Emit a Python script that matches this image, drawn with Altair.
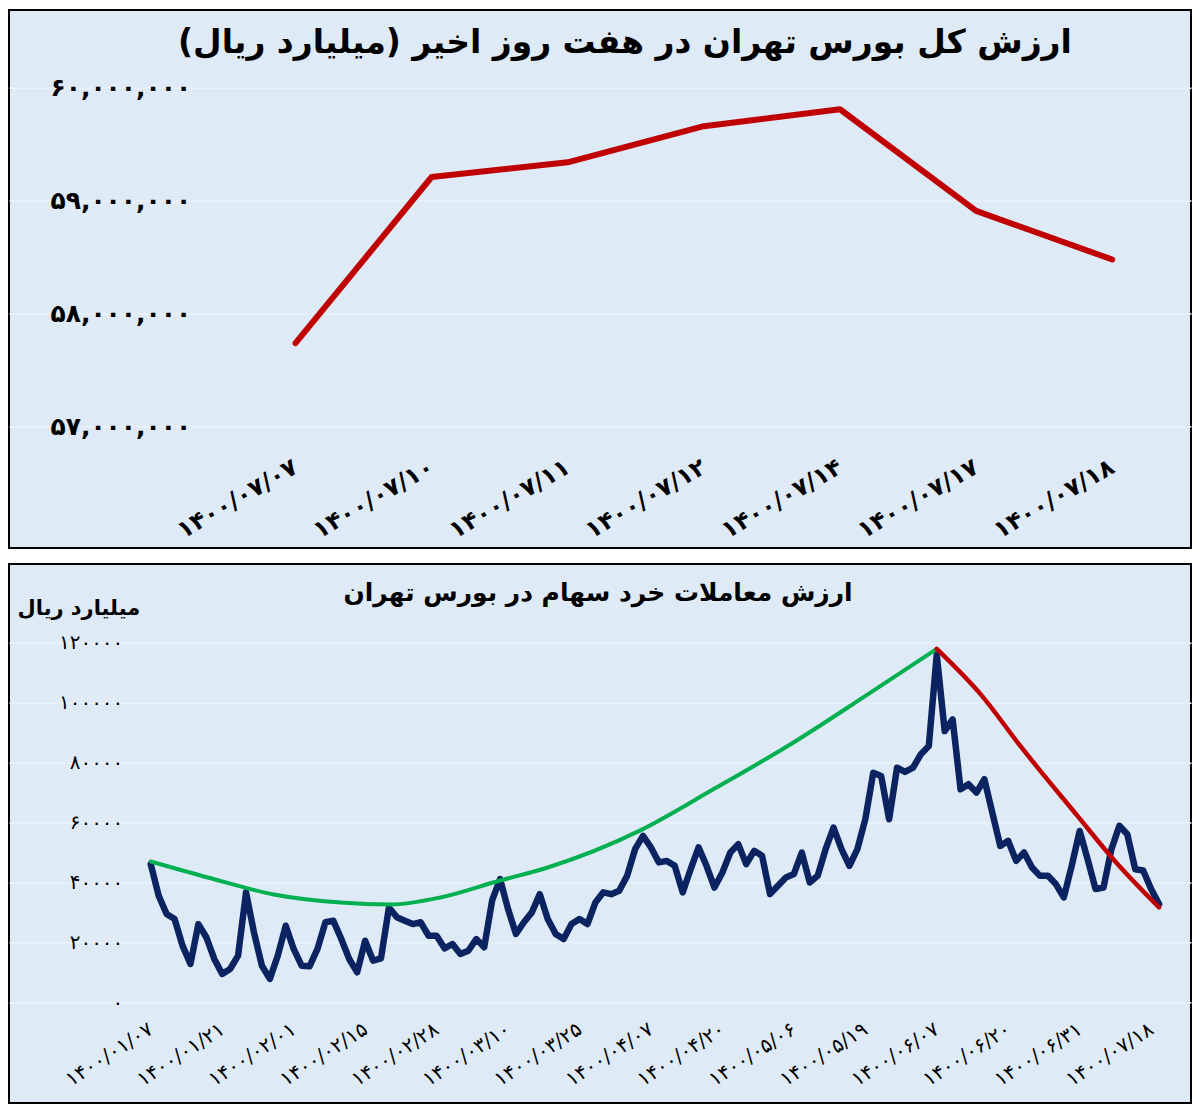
import altair as alt
import pandas as pd

PERSIAN = "۰۱۲۳۴۵۶۷۸۹"


def fa(s):
    return "".join(PERSIAN[int(c)] if c.isdigit() else c for c in s)


RLM = "\u200f"

# ---------------- top panel data ----------------
top_title = "ارزش کل بورس تهران در هفت روز اخیر (میلیارد ریال)"
top_dates = ["1400/07/07", "1400/07/10", "1400/07/11", "1400/07/12",
             "1400/07/14", "1400/07/17", "1400/07/18"]
top_values = [57740000, 59210000, 59340000, 59660000, 59810000, 58910000, 58480000]
top_y_ticks = [57000000, 58000000, 59000000, 60000000]

# ---------------- bottom panel data ----------------
bottom_title = "ارزش معاملات خرد سهام در بورس تهران"
bottom_unit = "میلیارد ریال"
bottom_values = [
    46100, 35550, 29450, 27800, 18900, 12800, 26100, 21700, 14450, 9450,
    11100, 15550, 36700, 23300, 12200, 7800, 15550, 25550, 17800, 12200,
    12000, 17800, 26700, 27200, 21100, 14450, 10000, 20550, 13900, 14650,
    31650, 28350, 27200, 26100, 26700, 22200, 22200, 18000, 19450, 16100,
    17200, 21100, 18350, 34000, 41100, 31100, 22800, 26700, 30000, 36100,
    27800, 22800, 21100, 26100, 27800, 26100, 33300, 36700, 36100, 37200,
    42200, 51100, 55550, 51700, 46700, 47200, 45550, 36700, 44400, 51700,
    45550, 38300, 43300, 50000, 52800, 46100, 50550, 48900, 36100, 38900,
    41650, 42800, 50000, 40000, 42200, 51100, 58300, 51100, 45550, 51100,
    61100, 76650, 75550, 61100, 78300, 76900, 78300, 82800, 85550, 116100,
    90550, 94450, 71100, 72800, 70000, 74450, 63300, 52200, 53900, 47200,
    50000, 45000, 42200, 42200, 39450, 35000, 45550, 57200, 47800, 37800,
    38300, 51100, 58900, 56100, 44400, 44000, 37800, 32800,
]
bottom_tick_idx = list(range(0, 127, 9))
bottom_tick_labels = [
    "1400/01/07", "1400/01/21", "1400/02/01", "1400/02/15", "1400/02/28",
    "1400/03/10", "1400/03/25", "1400/04/07", "1400/04/20", "1400/05/06",
    "1400/05/19", "1400/06/07", "1400/06/20", "1400/06/31", "1400/07/18",
]
bottom_y_ticks = [0, 20000, 40000, 60000, 80000, 100000, 120000]

green_idx = [0, 7.2, 15.5, 23.9, 30.2, 36.5, 44, 50, 61.6, 70.8, 80.9, 90.6, 99]
green_vals = [47000, 41650, 36000, 33300, 32650, 35000, 40650, 45000, 57300,
              71000, 86650, 103300, 118000]
red_idx = [99, 104.7, 109.5, 116.7, 121.6, 127]
red_vals = [118000, 102300, 85650, 62300, 46650, 31650]

# ---------------- styling ----------------
FONT = "DejaVu Sans"
BG = "#DEEBF7"
W = 1184
H_TOP = 539
H_BOT = 540


def digits_expr(src):
    e = src
    for d in range(10):
        e = f"replace({e}, regexp('{d}', 'g'), '{PERSIAN[d]}')"
    return e


def list_expr(labels):
    return "[" + ",".join("'" + fa(s) + "'" for s in labels) + "]"


# ---------------- top panel ----------------
top_df = pd.DataFrame({"i": list(range(len(top_values))), "v": top_values})

top_x = alt.X(
    "i:Q",
    scale=alt.Scale(domain=[-2.105, 6.579], nice=False, zero=False),
    axis=alt.Axis(
        values=list(range(len(top_dates))),
        labelExpr=list_expr(top_dates) + "[round(datum.value)]",
        labelAngle=-30, labelAlign="right", labelBaseline="middle",
        labelFont=FONT, labelFontSize=24, labelFontWeight="bold",
        labelColor="#000", labelPadding=0, ticks=False, domain=False,
        grid=False, offset=-83, title=None, labelOverlap=False,
    ),
)
top_y = alt.Y(
    "v:Q",
    scale=alt.Scale(domain=[55926000, 60689000], nice=False, zero=False),
    axis=alt.Axis(
        values=top_y_ticks,
        labelExpr=digits_expr("format(datum.value, ',')"),
        labelFont=FONT, labelFontSize=25, labelFontWeight="bold",
        labelColor="#000", labelPadding=0, labelAlign="right",
        labelBaseline="middle", ticks=False, domain=False,
        grid=True, gridColor="#EAF1F9", gridWidth=1.5,
        offset=-182, title=None,
    ),
)
top_line = alt.Chart(top_df).mark_line(
    color="#C00000", strokeWidth=6, strokeJoin="round", strokeCap="round"
).encode(x=top_x, y=top_y)

top_title_mark = alt.Chart(pd.DataFrame({"t": [RLM + top_title + RLM]})).mark_text(
    font=FONT, fontSize=33, fontWeight="bold", color="#000",
    align="center", baseline="middle",
).encode(text="t:N", x=alt.value(617), y=alt.value(33))

top_panel = alt.layer(top_line, top_title_mark).properties(width=W, height=H_TOP)

# ---------------- bottom panel ----------------
bot_df = pd.DataFrame({"i": list(range(len(bottom_values))), "v": bottom_values})
green_df = pd.DataFrame({"i": green_idx, "v": green_vals})
red_df = pd.DataFrame({"i": red_idx, "v": red_vals})

bot_xscale = alt.Scale(domain=[-17.855, 131.024], nice=False, zero=False)
bot_yscale = alt.Scale(domain=[-33667, 146333], nice=False, zero=False)

bot_x = alt.X(
    "i:Q", scale=bot_xscale,
    axis=alt.Axis(
        values=bottom_tick_idx,
        labelExpr=list_expr(bottom_tick_labels) + "[round(datum.value/9)]",
        labelAngle=-33, labelAlign="right", labelBaseline="middle",
        labelFont=FONT, labelFontSize=20, labelColor="#000",
        labelPadding=0, ticks=False, domain=False, grid=False,
        offset=-76, title=None, labelOverlap=False,
    ),
)
bot_y = alt.Y(
    "v:Q", scale=bot_yscale,
    axis=alt.Axis(
        values=bottom_y_ticks,
        labelExpr=digits_expr("format(datum.value, 'd')"),
        labelFont=FONT, labelFontSize=20, labelColor="#000",
        labelPadding=0, labelAlign="right", labelBaseline="middle",
        ticks=False, domain=False, grid=True, gridColor="#EAF1F9",
        gridWidth=1.5, offset=-114, title=None,
    ),
)

blue_line = alt.Chart(bot_df).mark_line(
    color="#0B2461", strokeWidth=6.5, strokeJoin="round", strokeCap="round"
).encode(x=bot_x, y=bot_y)

green_line = alt.Chart(green_df).mark_line(
    color="#00B050", strokeWidth=4, interpolate="monotone", strokeCap="round"
).encode(x=alt.X("i:Q", scale=bot_xscale), y=alt.Y("v:Q", scale=bot_yscale))

red_line = alt.Chart(red_df).mark_line(
    color="#C00000", strokeWidth=4.5, interpolate="monotone", strokeCap="round"
).encode(x=alt.X("i:Q", scale=bot_xscale), y=alt.Y("v:Q", scale=bot_yscale))

bot_title_mark = alt.Chart(pd.DataFrame({"t": [RLM + bottom_title + RLM]})).mark_text(
    font=FONT, fontSize=25, fontWeight="bold", color="#000",
    align="center", baseline="middle",
).encode(text="t:N", x=alt.value(590), y=alt.value(29))

bot_unit_mark = alt.Chart(pd.DataFrame({"t": [RLM + bottom_unit + RLM]})).mark_text(
    font=FONT, fontSize=21, fontWeight="bold", color="#000",
    align="center", baseline="middle",
).encode(text="t:N", x=alt.value(70), y=alt.value(45))

bottom_panel = alt.layer(
    blue_line, green_line, red_line, bot_title_mark, bot_unit_mark
).properties(width=W, height=H_BOT)

chart = (
    alt.vconcat(top_panel, bottom_panel, spacing=14)
    .properties(padding=0, background="#FFFFFF")
    .configure_view(fill=BG, stroke="#000000", strokeWidth=2)
)

chart.save("out.html", embed_options={"renderer": "svg", "actions": False})
